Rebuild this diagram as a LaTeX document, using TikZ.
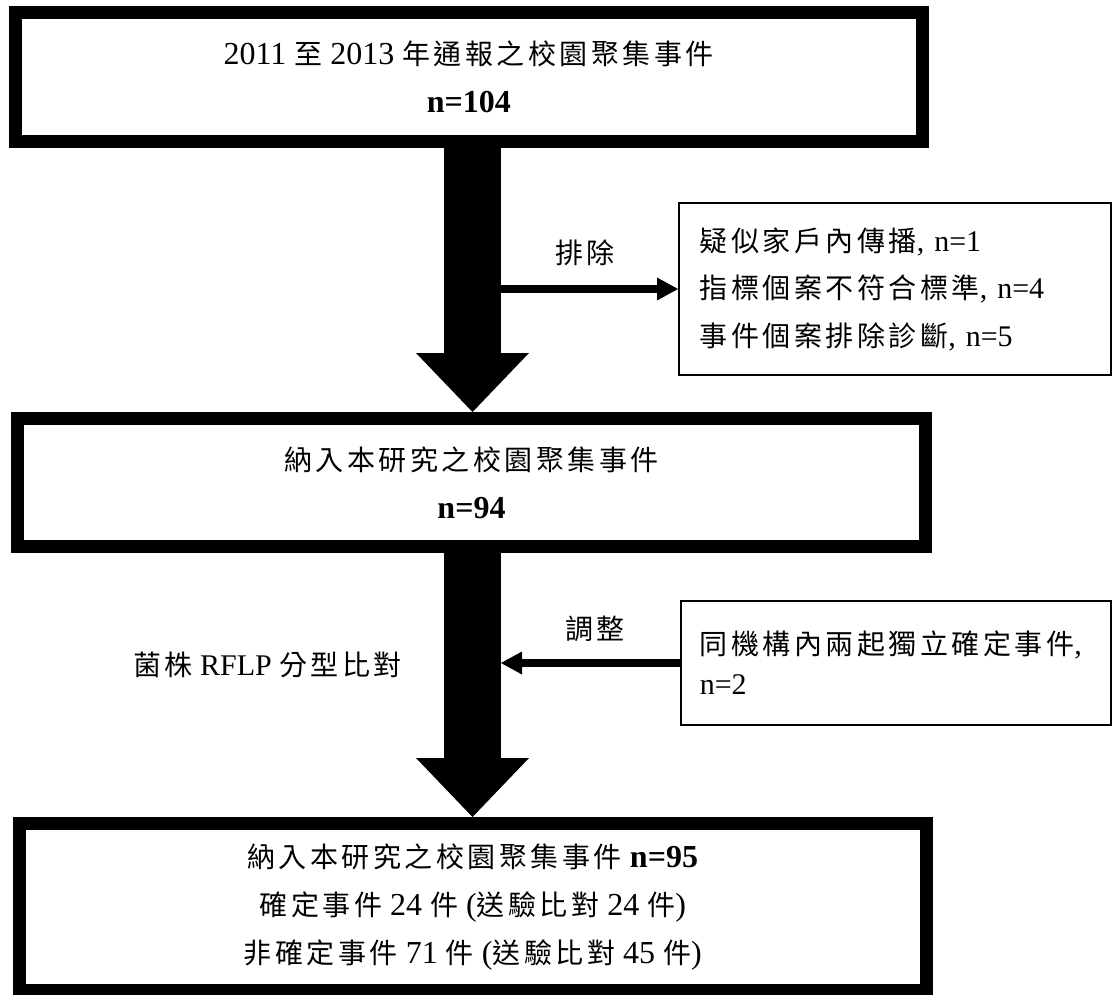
\documentclass[tikz,border=0pt]{standalone}
\usepackage{fontspec}
\setmainfont{Liberation Serif}
\newfontfamily\cjk[LetterSpace=12.5]{Noto Sans CJK TC}
\usetikzlibrary{arrows.meta,calc}
\newcommand{\zh}[1]{{\cjk\fontsize{28}{34}\selectfont #1}}
\newcommand{\bnum}[1]{{\fontsize{32}{48}\selectfont\bfseries #1}}
\begin{document}
\begin{tikzpicture}[x=1pt,y=-1pt,
  mainbox/.style={draw, line width=13pt, align=center, inner sep=0pt, font=\fontsize{32}{48}\selectfont},
  sidebox/.style={draw, line width=1.6pt, align=left, anchor=west, inner ysep=0pt},
  lbl/.style={font=\fontsize{30}{34}\selectfont, inner sep=0pt},
  blockarrow/.style={line width=57pt, -{Triangle[length=59pt,width=113pt,line width=0pt]}},
  thinarrow/.style={line width=8pt, -{Triangle[length=21pt,width=23pt,line width=0pt]}}]
\useasboundingbox (0,0) rectangle (1113,994);
\fill[white] (0,0) rectangle (1113,994);

\node[mainbox, minimum width=907.4pt, minimum height=129pt] (b1) at (468.8,77)
  {2011 \zh{至} 2013 \zh{年通報之校園聚集事件}\\ \bnum{n=104}};
\node[mainbox, minimum width=908pt, minimum height=128pt] (b2) at (471.5,482.5)
  {\zh{納入本研究之校園聚集事件}\\ \bnum{n=94}};
\node[mainbox, minimum width=907.5pt, minimum height=167pt] (b3) at (472.75,907)
  {\zh{納入本研究之校園聚集事件} \bnum{n=95}\\
   \zh{確定事件} 24 \zh{件} (\zh{送驗比對} 24 \zh{件})\\
   \zh{非確定事件} 71 \zh{件} (\zh{送驗比對} 45 \zh{件})};

\node[sidebox, inner xsep=21pt, text width=390pt, minimum height=172.4pt,
      font=\fontsize{30}{47.5}\selectfont] (s1) at (678,289)
  {\zh{疑似家戶內傳播}, n=1\\ \zh{指標個案不符合標準}, n=4\\ \zh{事件個案排除診斷}, n=5};
\node[sidebox, inner xsep=19pt, text width=392pt, minimum height=124.4pt,
      font=\fontsize{30}{40}\selectfont] (s2) at (680,663)
  {\zh{同機構內兩起獨立確定事件},\\ n=2};

\draw[blockarrow] (472.5,0 |- b1.south) -- (472.5,0 |- b2.north);
\draw[blockarrow] (472.5,0 |- b2.south) -- (472.5,0 |- b3.north);

\draw[thinarrow] (s1.west -| 498,0) -- (s1.west);
\draw[thinarrow] (s2.west) -- (s2.west -| 501,0);

\node[lbl] (l1) at (585,253) {\zh{排除}};
\node[lbl] (l2) at (595,629) {\zh{調整}};
\node[lbl, anchor=east] (l3) at (402,665) {\zh{菌株} RFLP \zh{分型比對}};
\end{tikzpicture}
\end{document}
